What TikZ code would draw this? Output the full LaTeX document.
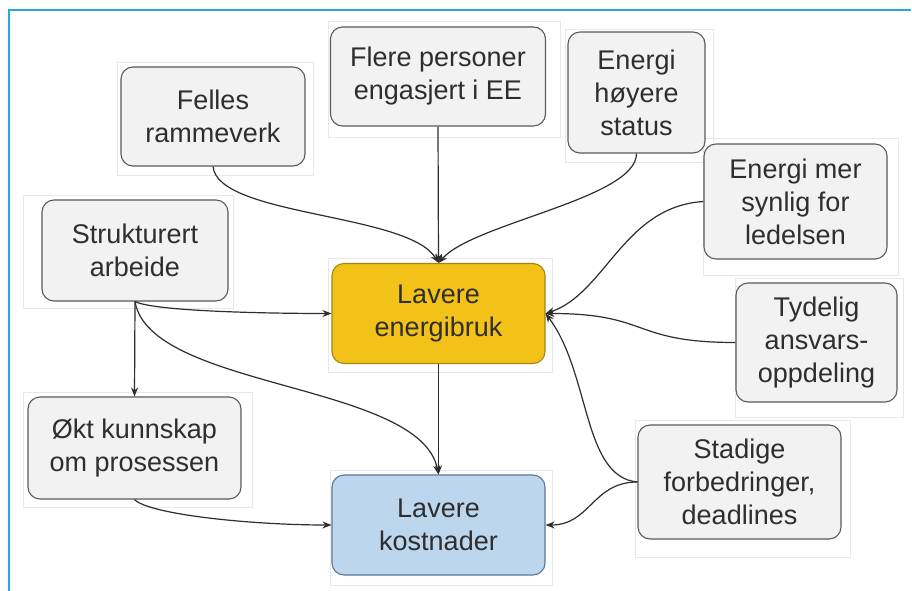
\documentclass[tikz,border=0pt]{standalone}
\usepackage{fontspec}
\setmainfont{Liberation Sans}
\usetikzlibrary{arrows.meta}
\definecolor{boxfill}{HTML}{F2F2F2}
\definecolor{boxline}{HTML}{5A5A5A}
\definecolor{txt}{HTML}{2E2E2E}
\definecolor{yelfill}{HTML}{F2C219}
\definecolor{yelline}{HTML}{A88410}
\definecolor{blufill}{HTML}{BCD6EE}
\definecolor{bluline}{HTML}{5C7896}
\definecolor{frame}{HTML}{2AA6D8}
\definecolor{ghostc}{HTML}{E8E8E8}
\tikzset{
  x=1pt, y=-1pt,
  box/.style={draw=boxline, fill=boxfill, line width=1.1pt, rounded corners=12pt,
    align=center, text=txt, inner sep=0pt, font=\fontsize{27}{33}\selectfont},
  yel/.style={box, fill=yelfill, draw=yelline},
  blu/.style={box, fill=blufill, draw=bluline},
  conn/.style={draw=txt, line width=1.2pt, -{Stealth[length=9pt,width=7pt]}},
  ghost/.style={draw=ghostc, line width=1pt},
}
\begin{document}
\begin{tikzpicture}
\useasboundingbox (0,0) rectangle (912,591);
\fill[white] (0,0) rectangle (912,591);
% frame
\draw[frame, line width=1.5pt] (9,591) -- (9,10) -- (911,10);
% faint backdrops
\draw[ghost] (117,63) rectangle (313,175);
\draw[ghost] (328,22) rectangle (560,137);
\draw[ghost] (565,30) rectangle (713,162);
\draw[ghost] (703,138) rectangle (898,275);
\draw[ghost] (23,195) rectangle (233,308);
\draw[ghost] (328,258) rectangle (552,372);
\draw[ghost] (735,278) rectangle (903,417);
\draw[ghost] (23,392) rectangle (252,507);
\draw[ghost] (635,420) rectangle (850,557);
\draw[ghost] (330,470) rectangle (552,585);
% nodes
\node[box, minimum width=184pt, minimum height=99pt] (fel) at (213,116.5) {Felles\\rammeverk};
\node[box, minimum width=215pt, minimum height=99pt] (fle) at (438,76.5) {Flere personer\\engasjert i EE};
\node[box, minimum width=137pt, minimum height=121pt] (eho) at (636.5,92.5) {Energi\\høyere\\status};
\node[box, minimum width=183pt, minimum height=115pt] (ems) at (795.5,201.5) {Energi mer\\synlig for\\ledelsen};
\node[box, minimum width=186pt, minimum height=101pt] (str) at (135,250.5) {Strukturert\\arbeide};
\node[yel, minimum width=213pt, minimum height=100pt] (leb) at (438.5,313.5) {Lavere\\energibruk};
\node[box, minimum width=161pt, minimum height=119pt] (tyd) at (816.5,342.5) {Tydelig\\ansvars-\\oppdeling};
\node[box, minimum width=213pt, minimum height=102pt] (okt) at (134.5,448) {Økt kunnskap\\om prosessen};
\node[box, minimum width=203pt, minimum height=114pt] (sta) at (739.5,482) {Stadige\\forbedringer,\\deadlines};
\node[blu, minimum width=213pt, minimum height=100pt] (lko) at (438.5,525) {Lavere\\kostnader};
% connectors
\draw[conn] (fle.south) -- (leb.north);
\draw[conn] (fel.south) .. controls +(5,50) and +(-30,-50) .. (leb.north);
\draw[conn] (eho.south) .. controls +(0,45) and +(35,-40) .. (leb.north);
\draw[conn] (ems.west) .. controls +(-80,5) and +(60,-20) .. (leb.east);
\draw[conn] (tyd.west) .. controls +(-105,0) and +(105,0) .. (leb.east);
\draw[conn] (sta.west) .. controls +(-55,-5) and +(45,60) .. (leb.east);
\draw[conn] (sta.west) .. controls +(-45,0) and +(45,0) .. (lko.east);
\draw[conn] (str.south) -- (okt.north);
\draw[conn] (str.south) .. controls +(20,10) and +(-60,0) .. (leb.west);
\draw[conn] (str.south) .. controls +(15,88) and +(-18,-92) .. (lko.north);
\draw[conn] (okt.south) .. controls +(15,15) and +(-80,0) .. (lko.west);
\draw[conn] (leb.south) -- (lko.north);
\end{tikzpicture}
\end{document}
